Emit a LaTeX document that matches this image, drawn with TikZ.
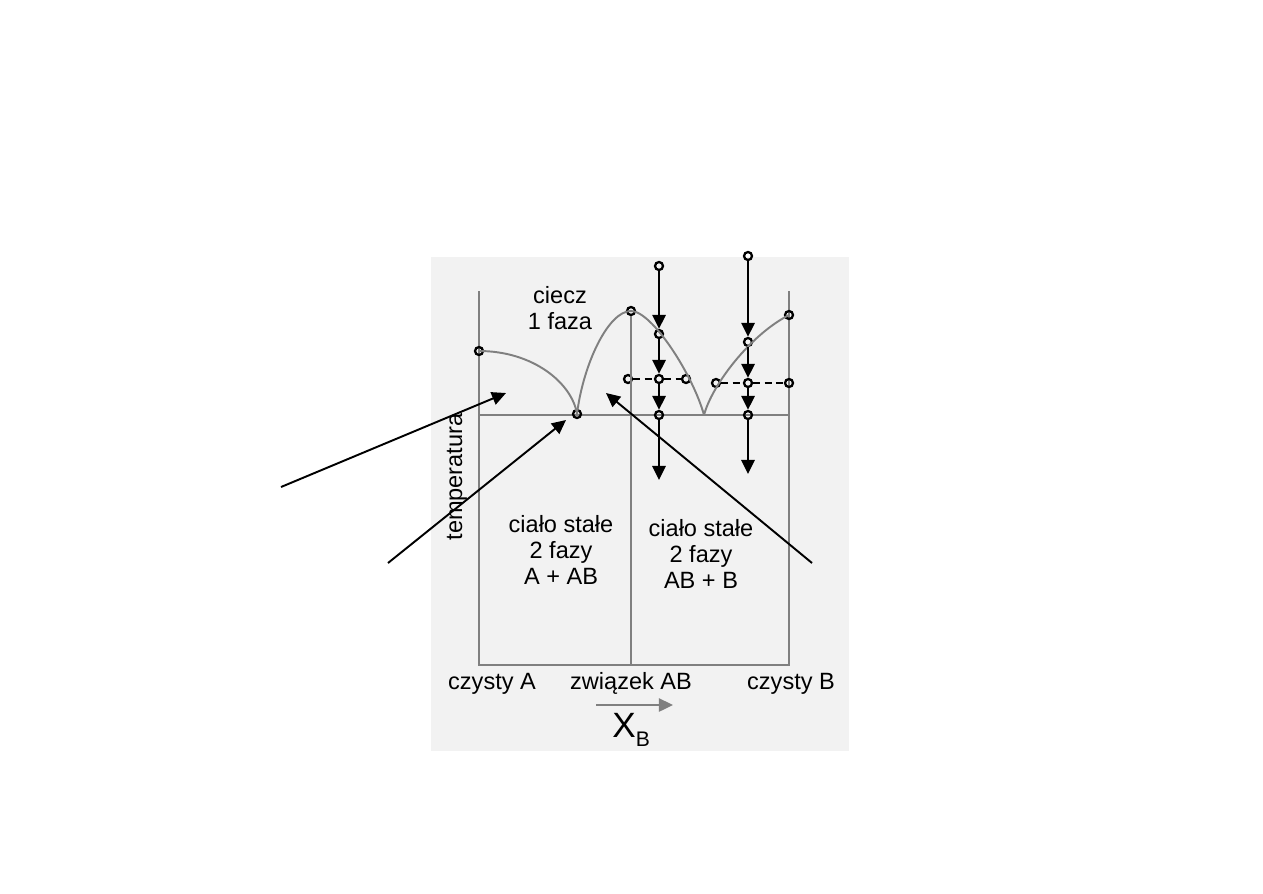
\documentclass[tikz,border=0pt]{standalone}
\usepackage{fontspec}
\setmainfont{Liberation Sans}
\usetikzlibrary{arrows.meta,positioning}
\definecolor{panelgray}{RGB}{242,242,242}
\definecolor{linegray}{RGB}{128,128,128}
\tikzset{>={Triangle[length=8pt,width=7.5pt]}}
\tikzset{font=\fontsize{13.4}{15}\selectfont}
\tikzset{phaseline/.style={linegray, line width=1.1pt},
  probe/.style={circle, draw=black, line width=1.3pt, inner sep=0pt, minimum size=0.16cm},
  cooling/.style={->, line width=1.5pt},
  pointer/.style={->, line width=1.1pt},
  tieline/.style={line width=1.2pt, dash pattern=on 4pt off 2.5pt},
  axislabel/.style={anchor=base, inner sep=0pt}}

\begin{document}
\begin{tikzpicture}[x=0.02cm, y=-0.02cm]
  \useasboundingbox (0,0) rectangle (1263,893);
  \fill[panelgray] (431,257) rectangle (849,751);

  % frame of the diagram
  \draw[phaseline] (479,291) -- (479,665) -- (789,665) -- (789,291);
  \draw[phaseline] (479,415) -- (789,415);

  % points on the diagram
  \foreach \n/\x/\y in {pA/479/351, eu1/577/414, cmp/631/311, pB/789/315,
      t1/659/266, l1/659/334, a1/628/379, m1/659/379, b1/686/379, s1/659/415,
      t2/748/256, l2/748/342, a2/716/383, m2/748/383, b2/789/383, s2/748/415}
    \node[probe] (\n) at (\x,\y) {};
  \coordinate (eu2) at (704,415);
  \coordinate (e1) at (659,480);
  \coordinate (e2) at (748,474);

  \draw[phaseline] (cmp.south) -- (631,665);

  % liquidus curves
  \draw[phaseline] (pA.center) .. controls (533,351) and (572,383) .. (eu1.center);
  \draw[phaseline] (eu1.center) .. controls (583,365) and (608,311) .. (cmp.center);
  \draw[phaseline] (cmp.center) .. controls (652,311) and (693,375) .. (eu2);
  \draw[phaseline] (eu2) .. controls (712,385) and (750,335) .. (pB.center);

  % tie lines
  \draw[tieline] (a1) -- (m1) -- (b1);
  \draw[tieline] (a2) -- (m2) -- (b2);

  % cooling paths
  \draw[cooling] (t1) -- (l1);
  \draw[cooling] (l1) -- (m1);
  \draw[cooling] (m1) -- (s1);
  \draw[cooling] (s1) -- (e1);
  \draw[cooling] (t2) -- (l2);
  \draw[cooling] (l2) -- (m2);
  \draw[cooling] (m2) -- (s2);
  \draw[cooling] (s2) -- (e2);

  % pointers from outside
  \coordinate (r1) at (281,487);
  \coordinate (h1) at (506,393);
  \coordinate (r2) at (388,563);
  \coordinate (h2) at (566,420);
  \coordinate (r3) at (812,563);
  \coordinate (h3) at (606,393);
  \draw[pointer] (r1) -- (h1);
  \draw[pointer] (r2) -- (h2);
  \draw[pointer] (r3) -- (h3);

  % labels
  \node[align=center] (liq) at (560,308) {ciecz\\1 faza};
  \node[align=center] (solA) at (561,550) {ciało stałe\\2 fazy\\A + AB};
  \node[align=center] (solB) at (701,554) {ciało stałe\\2 fazy\\AB + B};
  \node[rotate=90] (temp) at (457,477) {temperatura};
  \node[axislabel] (pureA) at (492,689) {czysty A};
  \node[axislabel] (compAB) at (631,689) {związek AB};
  \node[axislabel] (pureB) at (791,689) {czysty B};

  \coordinate (xs) at (596,705);
  \coordinate (xe) at (673,705);
  \draw[->, linegray, line width=1.1pt] (xs) -- (xe);
  \node[anchor=base west, inner sep=0pt] (xb) at (612,737)
    {\fontsize{20}{20}\selectfont X\raisebox{-5.3pt}{\fontsize{12}{12}\selectfont B}};
\end{tikzpicture}
\end{document}
